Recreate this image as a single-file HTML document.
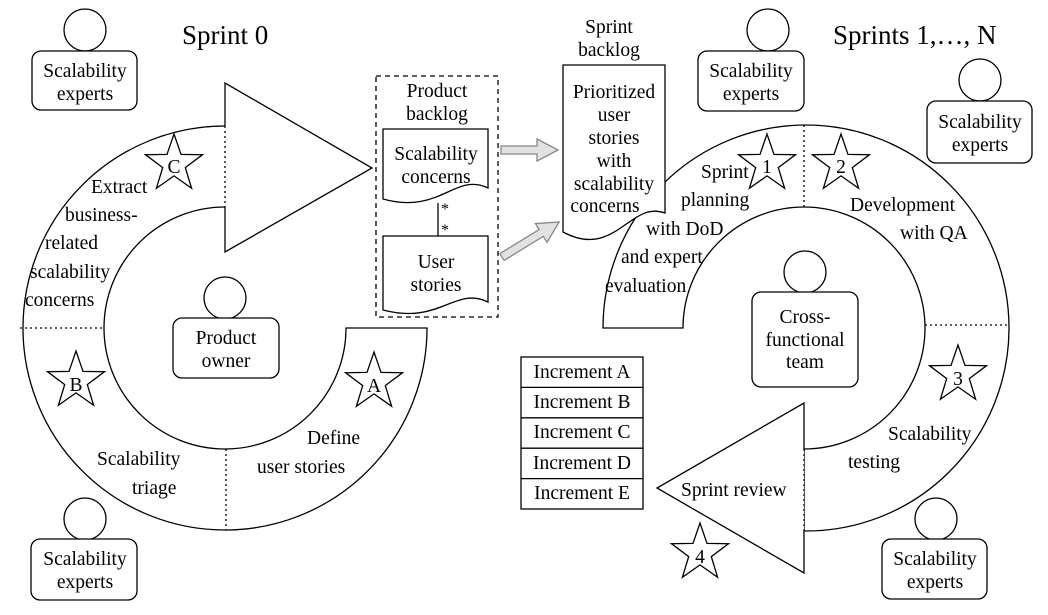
<!DOCTYPE html>
<html><head><meta charset="utf-8"><style>
html,body{margin:0;padding:0;background:#fff;}
svg{display:block;}
text{font-family:"Liberation Serif",serif;font-size:19.5px;fill:#000;}
.t{font-size:27px;}
.c{text-anchor:middle;}
</style></head><body>
<svg width="1048" height="615" viewBox="0 0 1048 615" xmlns="http://www.w3.org/2000/svg">
<defs>
<polygon id="star" points="0,-30 7,-9.6 28.5,-9.3 11.3,3.6 17.6,24.3 0,11.9 -17.6,24.3 -11.3,3.6 -28.5,-9.3 -7,-9.6" fill="#fff" stroke="#000" stroke-width="1.3"/>
</defs>
<g fill="none" stroke="#000" stroke-width="1.3">
<path d="M225,126 A202,202 0 1 0 427,328 L346,328 A121,121 0 1 1 225,207" fill="#fff"/>
<polyline points="225,126 225,83 372,168 225,252 225,207" fill="#fff"/>
<line x1="225" y1="126" x2="225" y2="207" stroke-dasharray="2,3"/>
<line x1="20" y1="328" x2="104" y2="328" stroke-dasharray="2,3"/>
<line x1="226" y1="449" x2="226" y2="530" stroke-dasharray="2,3"/>
<path d="M603,328 A203,203 0 1 1 804,531 L804,449 A121,121 0 1 0 683,328 Z" fill="#fff"/>
<polyline points="804,531 804,573 657,488 804,403 804,449" fill="#fff"/>
<line x1="804" y1="449" x2="804" y2="531" stroke-dasharray="2,3"/>
<line x1="804" y1="125" x2="804" y2="207" stroke-dasharray="2,3"/>
<line x1="925" y1="325" x2="1008" y2="325" stroke-dasharray="2,3"/>
<rect x="376" y="76" width="122" height="241" stroke-dasharray="5,4"/>
<path d="M383,129 H488 V188 C455,172 440,215 383,199 Z" fill="#fff"/>
<line x1="438" y1="203" x2="438" y2="236"/>
<path d="M383,236 H488 V302 C455,286 440,325 383,310 Z" fill="#fff"/>
<path d="M563,65 H665 V213 C630,200 615,260 563,232 Z" fill="#fff"/>
<polygon points="501,146 537,146 537,139 558,150 537,161 537,154 501,154" fill="#e2e2e2" stroke="#888"/>
<polygon transform="translate(502,257) rotate(-31.5)" points="0,-4 46,-4 46,-11 67,0 46,11 46,4 0,4" fill="#e2e2e2" stroke="#888"/>
<circle cx="85" cy="30" r="21"/><rect x="32" y="51" width="105" height="59" rx="9" fill="#fff"/>
<circle cx="85" cy="519" r="21"/><rect x="31" y="539" width="106" height="61" rx="9" fill="#fff"/>
<circle cx="768" cy="30" r="21"/><rect x="698" y="51" width="106" height="60" rx="9" fill="#fff"/>
<circle cx="980" cy="80" r="21"/><rect x="927" y="101" width="105" height="62" rx="9" fill="#fff"/>
<circle cx="936" cy="519" r="21"/><rect x="882" y="539" width="105" height="60" rx="9" fill="#fff"/>
<circle cx="225" cy="298" r="21"/><rect x="173" y="318" width="106" height="60" rx="9" fill="#fff"/>
<circle cx="805" cy="272" r="21"/><rect x="752" y="292" width="106" height="95" rx="9" fill="#fff"/>
<rect x="521" y="357" width="122" height="152"/>
<line x1="521" y1="387.4" x2="643" y2="387.4"/>
<line x1="521" y1="417.8" x2="643" y2="417.8"/>
<line x1="521" y1="448.2" x2="643" y2="448.2"/>
<line x1="521" y1="478.6" x2="643" y2="478.6"/>
</g>
<use href="#star" x="174" y="164"/>
<use href="#star" x="76" y="381"/>
<use href="#star" x="374" y="382"/>
<use href="#star" x="767" y="164"/>
<use href="#star" x="841" y="164"/>
<use href="#star" x="958" y="375"/>
<use href="#star" x="700" y="553"/>
<text class="c" x="174" y="173">C</text>
<text class="c" x="76" y="391">B</text>
<text class="c" x="374" y="392">A</text>
<text class="c" x="767" y="173">1</text>
<text class="c" x="841" y="173">2</text>
<text class="c" x="958" y="385">3</text>
<text class="c" x="700" y="563">4</text>
<text class="t" x="182" y="44">Sprint 0</text>
<text class="t" x="833" y="44">Sprints 1,…, N</text>
<text class="c" x="85" y="77">Scalability</text><text class="c" x="85" y="100">experts</text>
<text class="c" x="85" y="565">Scalability</text><text class="c" x="85" y="588">experts</text>
<text class="c" x="751" y="77">Scalability</text><text class="c" x="751" y="100">experts</text>
<text class="c" x="980" y="128">Scalability</text><text class="c" x="980" y="151">experts</text>
<text class="c" x="935" y="565">Scalability</text><text class="c" x="935" y="588">experts</text>
<text class="c" x="226" y="344">Product</text><text class="c" x="226" y="367">owner</text>
<text class="c" x="805" y="323">Cross-</text><text class="c" x="805" y="346">functional</text><text class="c" x="805" y="368">team</text>
<text x="91" y="193">Extract</text>
<text x="65" y="221">business-</text>
<text x="45" y="249">related</text>
<text x="30" y="278">scalability</text>
<text x="25" y="306">concerns</text>
<text x="97" y="465">Scalability</text>
<text x="132" y="494">triage</text>
<text x="307" y="444">Define</text>
<text x="257" y="473">user stories</text>
<text class="c" x="437" y="97">Product</text>
<text class="c" x="437" y="120">backlog</text>
<text class="c" x="436" y="160">Scalability</text>
<text class="c" x="436" y="183">concerns</text>
<text class="c" x="445" y="214" style="font-size:16px">*</text>
<text class="c" x="445" y="235" style="font-size:16px">*</text>
<text class="c" x="436" y="268">User</text>
<text class="c" x="436" y="291">stories</text>
<text class="c" x="609" y="33">Sprint</text>
<text class="c" x="609" y="56">backlog</text>
<text class="c" x="614" y="98">Prioritized</text>
<text class="c" x="614" y="121">user</text>
<text class="c" x="614" y="144">stories</text>
<text class="c" x="614" y="167">with</text>
<text class="c" x="614" y="190">scalability</text>
<text class="c" x="605" y="212">concerns</text>
<text x="701" y="178">Sprint</text>
<text x="681" y="206">planning</text>
<text x="646" y="235">with DoD</text>
<text x="621" y="263">and expert</text>
<text x="605" y="292">evaluation</text>
<text x="850" y="211">Development</text>
<text x="900" y="239">with QA</text>
<text x="888" y="440">Scalability</text>
<text x="848" y="468">testing</text>
<text x="681" y="496">Sprint review</text>
<text class="c" x="582" y="378">Increment A</text>
<text class="c" x="582" y="408">Increment B</text>
<text class="c" x="582" y="438">Increment C</text>
<text class="c" x="582" y="469">Increment D</text>
<text class="c" x="582" y="499">Increment E</text>
</svg>
</body></html>
